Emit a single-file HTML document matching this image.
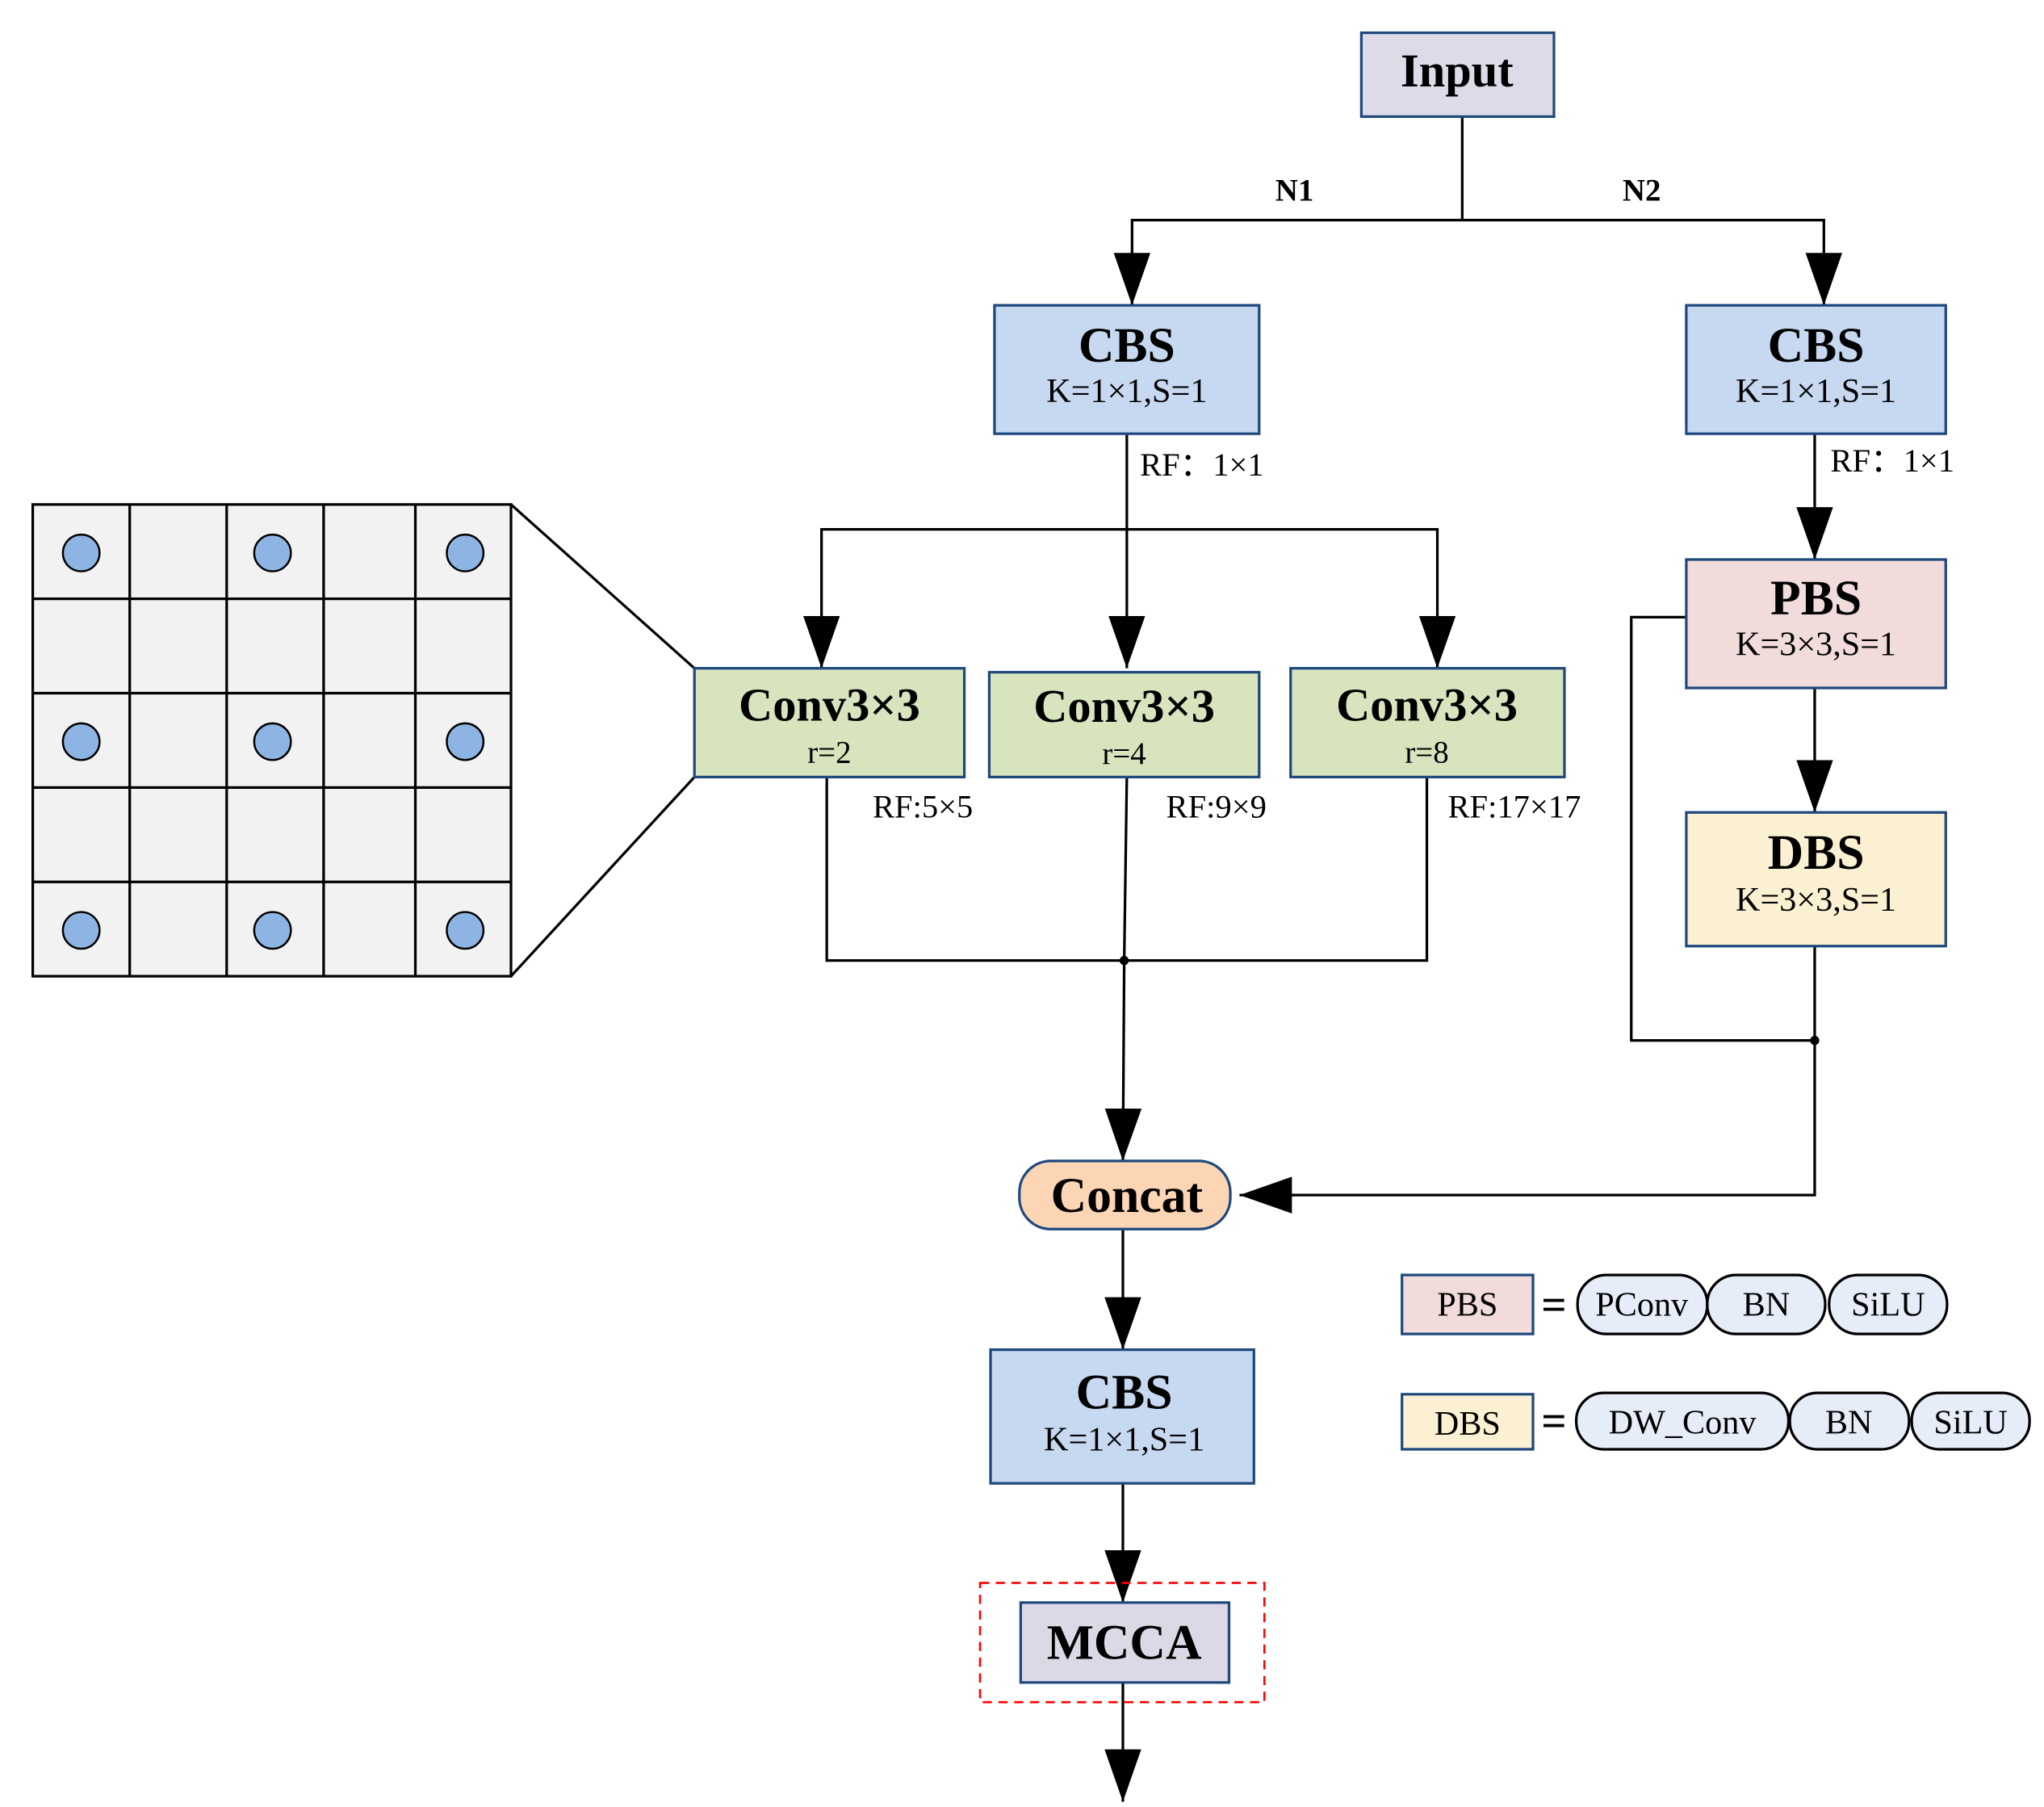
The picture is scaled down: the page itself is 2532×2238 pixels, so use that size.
<!DOCTYPE html>
<html><head><meta charset="utf-8"><style>
html,body{margin:0;padding:0;background:#fff;}
svg{display:block;}
text{font-family:"Liberation Serif",serif;fill:#000;}
.b{font-weight:bold;}
.box{stroke:#1f497d;stroke-width:2;}
.ln{stroke:#000;stroke-width:2;fill:none;}
</style></head><body>
<svg width="2532" height="2238" viewBox="0 0 1560 1379" preserveAspectRatio="none" xmlns="http://www.w3.org/2000/svg">
<defs>
<marker id="ar" markerWidth="40" markerHeight="28" refX="40" refY="14" orient="auto-start-reverse" markerUnits="userSpaceOnUse" viewBox="0 0 40 28">
<path d="M0,0 L40,14 L0,28 Z" fill="#000"/>
</marker>
</defs>
<!-- grid -->
<rect x="25" y="385" width="365" height="360" fill="#f2f2f2" stroke="#000" stroke-width="2"/>
<g class="ln">
<line x1="99" y1="385" x2="99" y2="745"/><line x1="173" y1="385" x2="173" y2="745"/>
<line x1="247" y1="385" x2="247" y2="745"/><line x1="317" y1="385" x2="317" y2="745"/>
<line x1="25" y1="457" x2="390" y2="457"/><line x1="25" y1="529" x2="390" y2="529"/>
<line x1="25" y1="601" x2="390" y2="601"/><line x1="25" y1="673" x2="390" y2="673"/>
<line x1="390" y1="385" x2="530" y2="510"/><line x1="390" y1="745" x2="530" y2="593"/>
</g>
<g fill="#8eb4e3" stroke="#000" stroke-width="1.5">
<ellipse cx="62" cy="422" rx="14" ry="14"/><ellipse cx="208" cy="422" rx="14" ry="14"/><ellipse cx="355" cy="422" rx="14" ry="14"/>
<ellipse cx="62" cy="566" rx="14" ry="14"/><ellipse cx="208" cy="566" rx="14" ry="14"/><ellipse cx="355" cy="566" rx="14" ry="14"/>
<ellipse cx="62" cy="710" rx="14" ry="14"/><ellipse cx="208" cy="710" rx="14" ry="14"/><ellipse cx="355" cy="710" rx="14" ry="14"/>
</g>
<!-- connectors -->
<g class="ln">
<line x1="1116" y1="89" x2="1116" y2="168"/>
<polyline points="864,233 864,168 1392,168 1392,233" marker-start="url(#ar)" marker-end="url(#ar)"/>
<line x1="860" y1="331" x2="860" y2="510" marker-end="url(#ar)"/>
<polyline points="627,510 627,404 1097,404 1097,510" marker-start="url(#ar)" marker-end="url(#ar)"/>
<polyline points="631,593 631,733 1089,733 1089,593"/>
<line x1="860" y1="593" x2="858" y2="733"/>
<line x1="858" y1="733" x2="857" y2="886" marker-end="url(#ar)"/>
<line x1="1385" y1="331" x2="1385" y2="427" marker-end="url(#ar)"/>
<line x1="1385" y1="525" x2="1385" y2="620" marker-end="url(#ar)"/>
<polyline points="1287,471 1245,471 1245,794 1385,794"/>
<polyline points="1385,722 1385,912 946,912" marker-end="url(#ar)"/>
<line x1="857" y1="938" x2="857" y2="1030" marker-end="url(#ar)"/>
<line x1="857" y1="1132" x2="857" y2="1223" marker-end="url(#ar)"/>
<line x1="857" y1="1284" x2="857" y2="1375" marker-end="url(#ar)"/>
</g>
<circle cx="858" cy="733" r="3.5" fill="#000"/>
<circle cx="1385" cy="794" r="3.5" fill="#000"/>
<!-- boxes -->
<rect class="box" x="1039" y="25" width="147" height="64" fill="#dfdae8"/>
<text class="b" x="1112" y="66" font-size="36" text-anchor="middle">Input</text>
<text class="b" x="988" y="153" font-size="24" text-anchor="middle">N1</text>
<text class="b" x="1253" y="153" font-size="24" text-anchor="middle">N2</text>

<rect class="box" x="759" y="233" width="202" height="98" fill="#c6d9f1"/>
<text class="b" x="860" y="276" font-size="38" text-anchor="middle">CBS</text>
<text x="860" y="307" font-size="26" text-anchor="middle">K=1×1,S=1</text>
<rect class="box" x="1287" y="233" width="198" height="98" fill="#c6d9f1"/>
<text class="b" x="1386" y="276" font-size="38" text-anchor="middle">CBS</text>
<text x="1386" y="307" font-size="26" text-anchor="middle">K=1×1,S=1</text>
<text x="870" y="363" font-size="25">RF：1×1</text>
<text x="1397" y="360" font-size="25">RF：1×1</text>

<rect class="box" x="530" y="510" width="206" height="83" fill="#d7e4bd"/>
<text class="b" x="633" y="550" font-size="36" text-anchor="middle">Conv3×3</text>
<text x="633" y="582" font-size="24" text-anchor="middle">r=2</text>
<rect class="box" x="755" y="513" width="206" height="80" fill="#d7e4bd"/>
<text class="b" x="858" y="551" font-size="36" text-anchor="middle">Conv3×3</text>
<text x="858" y="583" font-size="24" text-anchor="middle">r=4</text>
<rect class="box" x="985" y="510" width="209" height="83" fill="#d7e4bd"/>
<text class="b" x="1089" y="550" font-size="36" text-anchor="middle">Conv3×3</text>
<text x="1089" y="582" font-size="24" text-anchor="middle">r=8</text>
<text x="666" y="624" font-size="25">RF:5×5</text>
<text x="890" y="624" font-size="25">RF:9×9</text>
<text x="1105" y="624" font-size="25">RF:17×17</text>

<rect class="box" x="1287" y="427" width="198" height="98" fill="#f2dcdb"/>
<text class="b" x="1386" y="469" font-size="38" text-anchor="middle">PBS</text>
<text x="1386" y="500" font-size="26" text-anchor="middle">K=3×3,S=1</text>
<rect class="box" x="1287" y="620" width="198" height="102" fill="#fcf0d2"/>
<text class="b" x="1386" y="663" font-size="38" text-anchor="middle">DBS</text>
<text x="1386" y="695" font-size="26" text-anchor="middle">K=3×3,S=1</text>

<rect class="box" x="778" y="886" width="161" height="52" rx="24" fill="#fcd5b5"/>
<text class="b" x="860" y="925" font-size="38" text-anchor="middle">Concat</text>

<rect class="box" x="756" y="1030" width="201" height="102" fill="#c6d9f1"/>
<text class="b" x="858" y="1075" font-size="38" text-anchor="middle">CBS</text>
<text x="858" y="1107" font-size="26" text-anchor="middle">K=1×1,S=1</text>

<rect x="748" y="1208" width="217" height="91" fill="none" stroke="#ff0000" stroke-width="1.6" stroke-dasharray="7,5"/>
<rect class="box" x="779" y="1223" width="159" height="61" fill="#dcd8e6"/>
<text class="b" x="858" y="1266" font-size="38" text-anchor="middle">MCCA</text>

<!-- legend -->
<rect class="box" x="1070" y="973" width="100" height="45" fill="#f2dcdb"/>
<text x="1120" y="1004" font-size="26" text-anchor="middle">PBS</text>
<text class="b" x="1186" y="1007" font-size="34" text-anchor="middle">=</text>
<g fill="#e6edf8" stroke="#000" stroke-width="2">
<rect x="1204" y="973" width="99" height="45" rx="22"/>
<rect x="1303" y="973" width="90" height="45" rx="22"/>
<rect x="1396" y="973" width="90" height="45" rx="22"/>
<rect x="1203" y="1063" width="162" height="43" rx="21"/>
<rect x="1366" y="1063" width="91" height="43" rx="21"/>
<rect x="1459" y="1063" width="90" height="43" rx="21"/>
</g>
<text x="1253" y="1004" font-size="26" text-anchor="middle">PConv</text>
<text x="1348" y="1004" font-size="26" text-anchor="middle">BN</text>
<text x="1441" y="1004" font-size="26" text-anchor="middle">SiLU</text>
<rect class="box" x="1070" y="1064" width="100" height="42" fill="#fcf0d2"/>
<text x="1120" y="1095" font-size="26" text-anchor="middle">DBS</text>
<text class="b" x="1186" y="1096" font-size="34" text-anchor="middle">=</text>
<text x="1284" y="1094" font-size="26" text-anchor="middle">DW_Conv</text>
<text x="1411" y="1094" font-size="26" text-anchor="middle">BN</text>
<text x="1504" y="1094" font-size="26" text-anchor="middle">SiLU</text>
</svg>
</body></html>
